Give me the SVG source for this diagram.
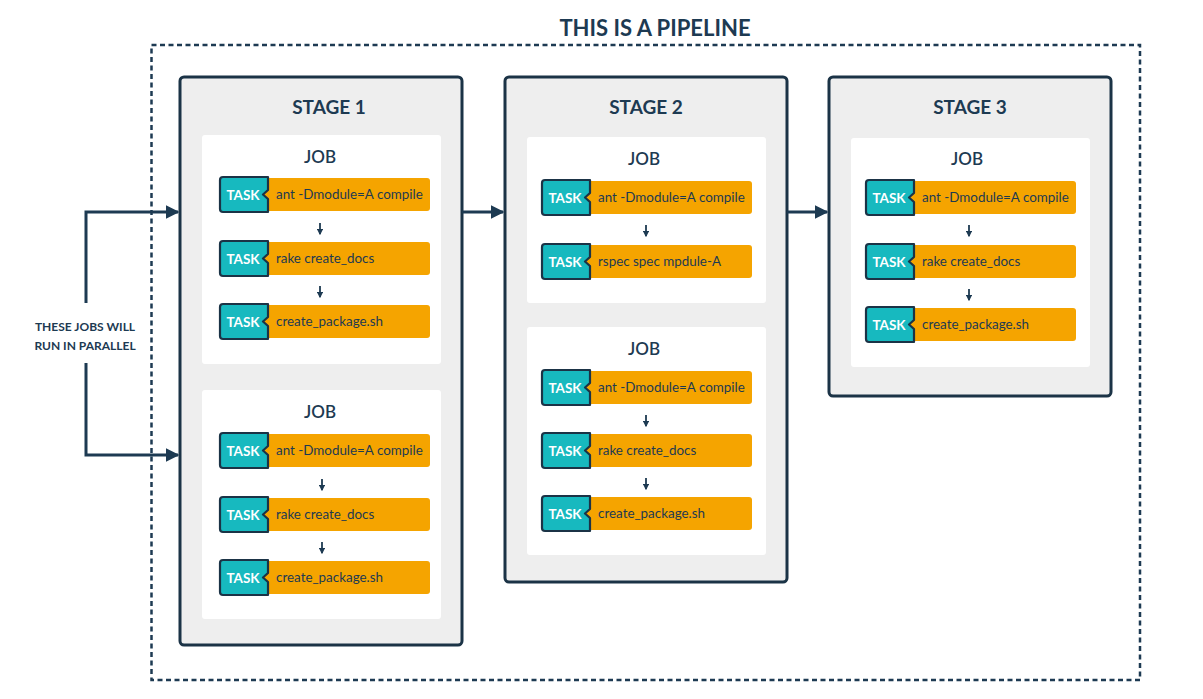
<svg xmlns="http://www.w3.org/2000/svg" width="1203" height="699" viewBox="0 0 1203 699">
<style>
.bg{fill:#ffffff}
.pipe{fill:none;stroke:#1d3a52;stroke-width:2.5;stroke-dasharray:5 3.5}
.stage{fill:#eeeeee;stroke:#1b3346;stroke-width:3}
.job{fill:#ffffff}
.h1{font-family:Lato,"Liberation Sans",sans-serif;font-weight:bold;font-size:22px;fill:#1d3a52;text-anchor:middle}
.h2{font-family:Lato,"Liberation Sans",sans-serif;font-weight:bold;font-size:19px;fill:#1d3a52;text-anchor:middle}
.h3{font-family:Lato,"Liberation Sans",sans-serif;font-weight:600;font-size:17px;fill:#1d3a52;text-anchor:middle}
.note{font-family:Lato,"Liberation Sans",sans-serif;font-weight:bold;font-size:12px;fill:#1d3a52;text-anchor:middle}
.tk{font-family:Lato,"Liberation Sans",sans-serif;font-weight:bold;font-size:13.5px;fill:#ffffff;text-anchor:middle}
.cmd{font-family:Lato,"Liberation Sans",sans-serif;font-size:13.4px;fill:#1d3a52}
.conn{fill:none;stroke:#1d3a52;stroke-width:3}
.small{fill:none;stroke:#1d3a52;stroke-width:1.8}
</style>
<defs>
<marker id="ah" viewBox="0 0 10 10" refX="9" refY="5" markerWidth="4.5" markerHeight="4.5" markerUnits="strokeWidth" orient="auto">
<path d="M0,0 L10,5 L0,10 Z" fill="#1d3a52"/>
</marker>
<marker id="sa" viewBox="0 0 10 10" refX="8" refY="5" markerWidth="3.6" markerHeight="3.6" markerUnits="strokeWidth" orient="auto">
<path d="M0,0 L10,5 L0,10 Z" fill="#1d3a52"/>
</marker>
<g id="taskshape">
<rect x="40" y="1" width="170" height="33" rx="3" fill="#f5a400"/>
<path d="M3,0 H48 V13 L43,17.5 L48,22 V35 H3 Q0,35 0,32 V3 Q0,0 3,0 Z" fill="#17b9bf" stroke="#1b3346" stroke-width="2.2" stroke-linejoin="round"/>
<text class="tk" x="23" y="22.5">TASK</text>
</g>
</defs>
<rect class="bg" x="0" y="0" width="1203" height="699"/>
<g id="pipeline">
<rect class="pipe" x="151.5" y="45" width="988.5" height="635"/>
<text class="h1" x="655" y="36">THIS IS A PIPELINE</text>
</g>
<g id="stage1">
<rect class="stage" x="180" y="77" width="282" height="568" rx="4"/>
<text class="h2" x="329" y="114">STAGE 1</text>
<g id="s1job1">
<rect class="job" x="202" y="135" width="239" height="229" rx="3"/>
<text class="h3" x="320" y="163">JOB</text>
<g transform="translate(220,177)"><use href="#taskshape"/><text class="cmd" x="56" y="22">ant -Dmodule=A compile</text></g>
<g transform="translate(220,241)"><use href="#taskshape"/><text class="cmd" x="56" y="22">rake create_docs</text></g>
<g transform="translate(220,304)"><use href="#taskshape"/><text class="cmd" x="56" y="22">create_package.sh</text></g>
</g>
<g id="s1job2">
<rect class="job" x="202" y="390" width="239" height="229" rx="3"/>
<text class="h3" x="320" y="418">JOB</text>
<g transform="translate(220,433)"><use href="#taskshape"/><text class="cmd" x="56" y="22">ant -Dmodule=A compile</text></g>
<g transform="translate(220,497)"><use href="#taskshape"/><text class="cmd" x="56" y="22">rake create_docs</text></g>
<g transform="translate(220,560)"><use href="#taskshape"/><text class="cmd" x="56" y="22">create_package.sh</text></g>
</g>
</g>
<g id="stage2">
<rect class="stage" x="505" y="77" width="282" height="505" rx="4"/>
<text class="h2" x="646" y="114">STAGE 2</text>
<g id="s2job1">
<rect class="job" x="527" y="137" width="239" height="166" rx="3"/>
<text class="h3" x="644" y="165">JOB</text>
<g transform="translate(542,180)"><use href="#taskshape"/><text class="cmd" x="56" y="22">ant -Dmodule=A compile</text></g>
<g transform="translate(542,244)"><use href="#taskshape"/><text class="cmd" x="56" y="22">rspec spec mpdule-A</text></g>
</g>
<g id="s2job2">
<rect class="job" x="527" y="327" width="239" height="228" rx="3"/>
<text class="h3" x="644" y="355">JOB</text>
<g transform="translate(542,370)"><use href="#taskshape"/><text class="cmd" x="56" y="22">ant -Dmodule=A compile</text></g>
<g transform="translate(542,433)"><use href="#taskshape"/><text class="cmd" x="56" y="22">rake create_docs</text></g>
<g transform="translate(542,496)"><use href="#taskshape"/><text class="cmd" x="56" y="22">create_package.sh</text></g>
</g>
</g>
<g id="stage3">
<rect class="stage" x="829" y="77" width="282" height="319" rx="4"/>
<text class="h2" x="970" y="114">STAGE 3</text>
<g id="s3job1">
<rect class="job" x="851" y="138" width="239" height="229" rx="3"/>
<text class="h3" x="967" y="165">JOB</text>
<g transform="translate(866,180)"><use href="#taskshape"/><text class="cmd" x="56" y="22">ant -Dmodule=A compile</text></g>
<g transform="translate(866,244)"><use href="#taskshape"/><text class="cmd" x="56" y="22">rake create_docs</text></g>
<g transform="translate(866,307)"><use href="#taskshape"/><text class="cmd" x="56" y="22">create_package.sh</text></g>
</g>
</g>
<g id="note">
<text class="note" x="85" y="331">THESE JOBS WILL</text>
<text class="note" x="85" y="350">RUN IN PARALLEL</text>
</g>
<g id="connectors">
<path class="conn" d="M86,303 V212 H178" marker-end="url(#ah)"/>
<path class="conn" d="M86,363 V455 H178" marker-end="url(#ah)"/>
<path class="conn" d="M462,212 H503" marker-end="url(#ah)"/>
<path class="conn" d="M787,212 H827" marker-end="url(#ah)"/>
<path class="small" d="M320,223 V234" marker-end="url(#sa)"/>
<path class="small" d="M320,286 V297" marker-end="url(#sa)"/>
<path class="small" d="M322,479 V490" marker-end="url(#sa)"/>
<path class="small" d="M322,542 V553" marker-end="url(#sa)"/>
<path class="small" d="M646,225 V236" marker-end="url(#sa)"/>
<path class="small" d="M646,415 V426" marker-end="url(#sa)"/>
<path class="small" d="M646,478 V489" marker-end="url(#sa)"/>
<path class="small" d="M969,225 V236" marker-end="url(#sa)"/>
<path class="small" d="M969,289 V300" marker-end="url(#sa)"/>
</g>
</svg>
